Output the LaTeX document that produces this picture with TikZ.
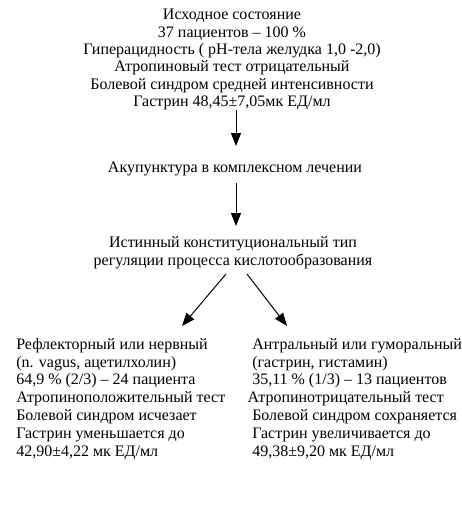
\documentclass[tikz,border=0pt]{standalone}
\usepackage{fontspec}
\setmainfont{Liberation Serif}
\usetikzlibrary{arrows.meta}
\begin{document}
\begin{tikzpicture}[x=0.75pt,y=-0.75pt,
  txt/.style={inner sep=0pt, font=\fontsize{12pt}{13pt}\selectfont},
  blk/.style={txt, align=left, font=\fontsize{12pt}{13.35pt}\selectfont},
  arr/.style={-{Triangle[length=9.75pt,width=7.5pt]}, line width=0.75pt}]
\useasboundingbox (0,0) rectangle (461,507);
\node[txt, align=center, anchor=base] (top) at (232,106.5) {Исходное состояние\\37 пациентов – 100 \%\\Гиперацидность ( pH-тела желудка 1,0 -2,0)\\Атропиновый тест отрицательный\\Болевой синдром средней интенсивности\\Гастрин 48,45±7,05мк ЕД/мл};
\node[txt, anchor=base] (acu) at (235,172) {Акупунктура в комплексном лечении};
\node[txt, align=center, anchor=base] (type) at (233,265) {Истинный конституциональный тип\\регуляции процесса кислотообразования};
\node[blk, anchor=base west] (left) at (16,456) {Рефлекторный или нервный\\(n. vagus, ацетилхолин)\\64,9 \% (2/3) – 24 пациента\\Атропиноположительный тест\\Болевой синдром исчезает\\Гастрин уменьшается до\\42,90±4,22 мк ЕД/мл};
\node[blk, anchor=base west] (right) at (252,456) {Антральный или гуморальный\\(гастрин, гистамин)\\35,11 \% (1/3) – 13 пациентов\\\hspace*{-3.5pt}Атропинотрицательный тест\\Болевой синдром сохраняется\\Гастрин увеличивается до\\49,38±9,20 мк ЕД/мл};
\coordinate (a1s) at (236,110);
\coordinate (a1e) at (236,146);
\coordinate (a2s) at (236,183);
\coordinate (a2e) at (236,226);
\coordinate (a3s) at (226,274);
\coordinate (a3e) at (182,326);
\coordinate (a4s) at (247,274);
\coordinate (a4e) at (287,326);
\draw[arr] (a1s) -- (a1e);
\draw[arr] (a2s) -- (a2e);
\draw[arr] (a3s) -- (a3e);
\draw[arr] (a4s) -- (a4e);
\end{tikzpicture}
\end{document}
